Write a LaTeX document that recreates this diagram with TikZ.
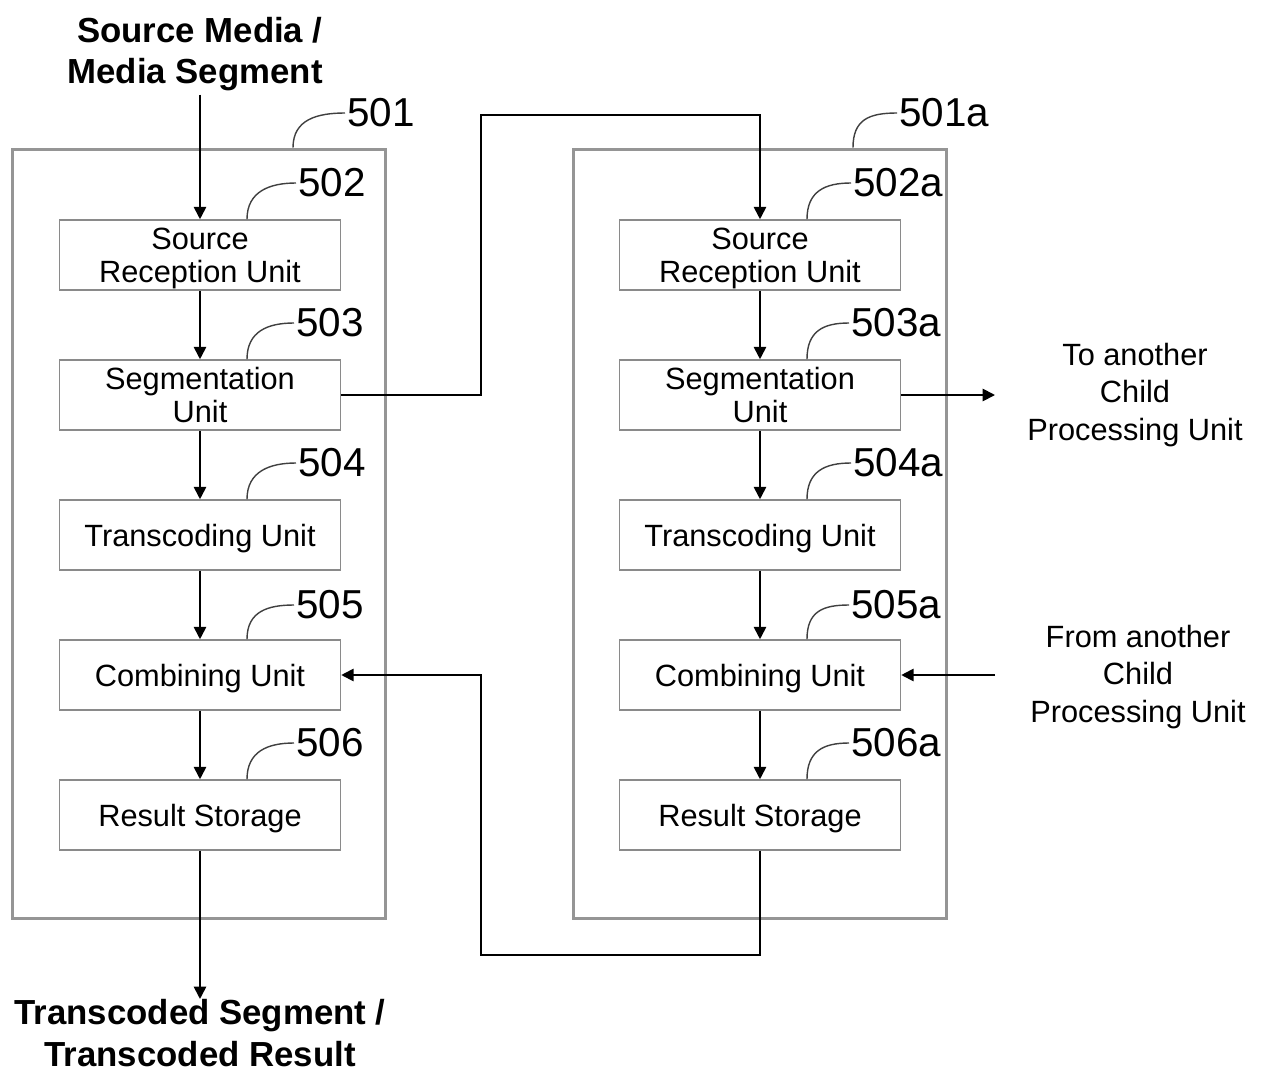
\documentclass[tikz,border=0pt]{standalone}
\usepackage{fontspec}
\setmainfont{Liberation Sans}
\usetikzlibrary{arrows.meta,calc}

\definecolor{framegray}{HTML}{959595}
\definecolor{boxgray}{HTML}{8A8A8A}
\definecolor{leadgray}{HTML}{404040}

\begin{document}
\begin{tikzpicture}[x=0.02cm,y=-0.02cm,
  frame/.style={draw=framegray, line width=1.7pt, minimum width=7.48cm,
    minimum height=15.4cm, inner sep=0pt},
  unit/.style={draw=boxgray, line width=0.9pt, fill=white, minimum width=5.62cm,
    minimum height=1.4cm, inner sep=0pt, align=center, text depth=-1pt,
    font=\fontsize{17.5}{18.7}\selectfont},
  tag/.style={anchor=west, inner sep=1pt, font=\fontsize{23}{26}\selectfont},
  leader/.style={draw=leadgray, line width=0.8pt},
  flow/.style={line width=1pt, -{Triangle[length=7pt,width=7pt]}},
  heading/.style={inner sep=0pt, font=\fontsize{19.8}{23.8}\selectfont\bfseries},
  note/.style={align=center, inner sep=0pt, font=\fontsize{17.5}{21.5}\selectfont}]

\useasboundingbox (0,0) rectangle (1268,1072);

% processing unit frames
\node[frame] (pa) at (199,534) {};
\node[frame] (pb) at (760,534) {};

% left processing unit
\node[unit] (a1) at (200,255) {Source\\Reception Unit};
\node[unit] (a2) at (200,395) {Segmentation\\Unit};
\node[unit] (a3) at (200,535) {Transcoding Unit};
\node[unit] (a4) at (200,675) {Combining Unit};
\node[unit] (a5) at (200,815) {Result Storage};

% right processing unit
\node[unit] (b1) at (760,255) {Source\\Reception Unit};
\node[unit] (b2) at (760,395) {Segmentation\\Unit};
\node[unit] (b3) at (760,535) {Transcoding Unit};
\node[unit] (b4) at (760,675) {Combining Unit};
\node[unit] (b5) at (760,815) {Result Storage};

% reference numerals
\node[tag] (la0) at (345,113) {501};
\node[tag] (la1) at (296,183) {502};
\node[tag] (la2) at (294,323) {503};
\node[tag] (la3) at (296,463) {504};
\node[tag] (la4) at (294,605) {505};
\node[tag] (la5) at (294,743) {506};
\node[tag] (lb0) at (897,113) {501a};
\node[tag] (lb1) at (851,183) {502a};
\node[tag] (lb2) at (849,323) {503a};
\node[tag] (lb3) at (851,463) {504a};
\node[tag] (lb4) at (849,605) {505a};
\node[tag] (lb5) at (849,743) {506a};

% leader lines
\draw[leader] ($(pa.north)+(94,0)$) .. controls +(0,-28) and +(-28,0) .. (la0.west);
\draw[leader] ($(pb.north)+(93,0)$) .. controls +(0,-28) and +(-28,0) .. (lb0.west);
\foreach \i in {1,...,5}{
  \draw[leader] ($(a\i.north)+(47,0)$) .. controls +(0,-28) and +(-26,0) .. (la\i.west);
  \draw[leader] ($(b\i.north)+(47,0)$) .. controls +(0,-28) and +(-26,0) .. (lb\i.west);
}

% input and output labels
\node[heading, align=right, anchor=east] (src) at (323,54) {Source Media /\\Media Segment};
\node[heading, align=center] (dst) at (200,1033) {Transcoded Segment /\\Transcoded Result};
\node[note] (tonote) at (1135,395) {To another\\Child\\Processing Unit};
\node[note] (fromnote) at (1138,677) {From another\\Child\\Processing Unit};

% flow inside each unit
\draw[flow] (a1.north |- src.south) ++(0,3) -- (a1.north);
\foreach \i/\j in {1/2,2/3,3/4,4/5}{
  \draw[flow] (a\i.south) -- (a\j.north);
  \draw[flow] (b\i.south) -- (b\j.north);
}
\draw[flow] (a5.south) -- (a5.south |- dst.north);

% links between the two units
\coordinate (up) at (481,115);
\coordinate (down) at (481,955);
\coordinate (toout) at (995,395);
\coordinate (fromin) at (995,675);
\draw[flow] (a2.east) -| (up) -| (b1.north);
\draw[flow] (b5.south) |- (down) |- (a4.east);
\draw[flow] (b2.east) -- (toout);
\draw[flow] (fromin) -- (b4.east);

\end{tikzpicture}
\end{document}
